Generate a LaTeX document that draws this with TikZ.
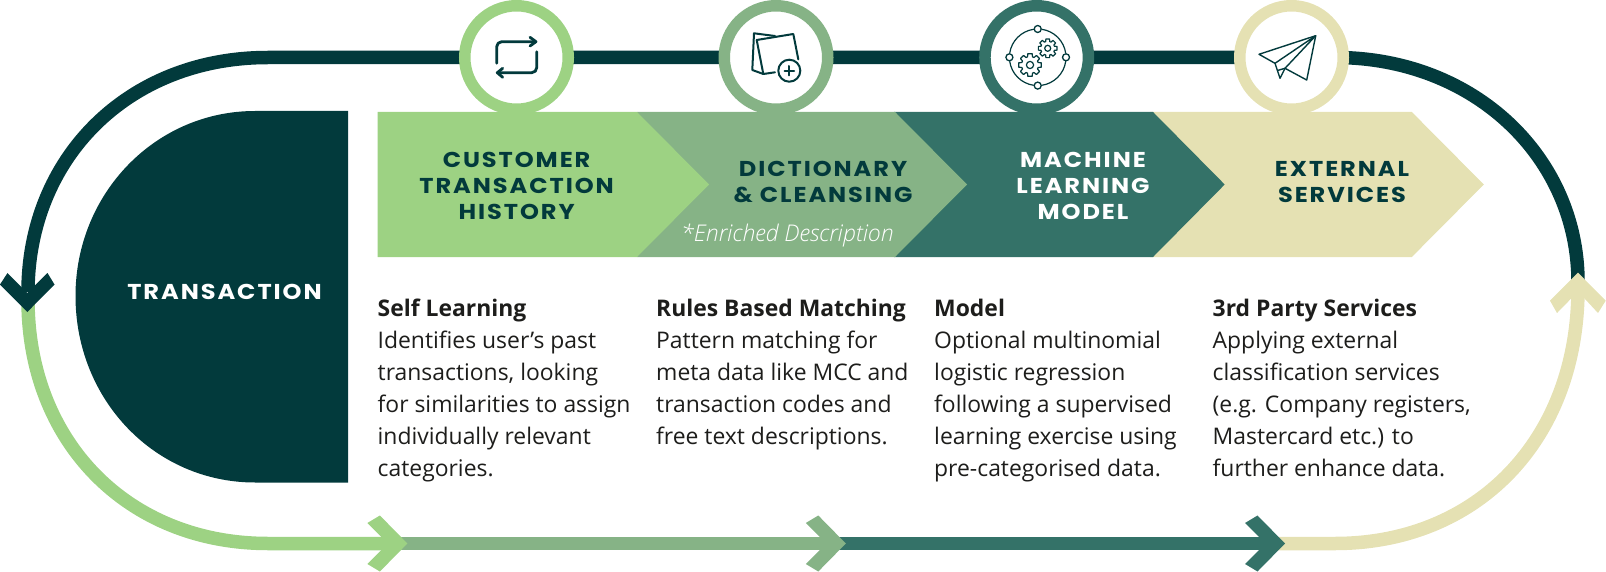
\documentclass[tikz,border=0pt]{standalone}
\usepackage{fontspec}
\setmainfont{Open Sans}
\newfontfamily\headf{Poppins}[UprightFont=* Bold,LetterSpace=9,FakeStretch=1.12]
\newfontfamily\enrf{Open Sans}[UprightFont=* Light Italic]
\usetikzlibrary{calc}
\definecolor{dk}{HTML}{023A3C}
\definecolor{lg}{HTML}{9DD283}
\definecolor{mg}{HTML}{86B386}
\definecolor{tl}{HTML}{347268}
\definecolor{bg}{HTML}{E5E1B3}
\definecolor{ink}{HTML}{1D1D1B}
\tikzset{
 ringline/.style={line width=13.5pt},
 ring/.style={circle,draw=#1,fill=white,line width=11.5pt,minimum size=103.5pt,inner sep=0pt,outer sep=0pt},
 iconline/.style={draw=dk,line width=2pt,line join=round,line cap=round},
 head/.style={font=\headf\fontsize{21.5}{26.3}\selectfont,align=center,inner sep=0pt,text=#1,anchor=base},
 bodytext/.style={font=\fontsize{22.9}{32}\selectfont,align=left,inner sep=0pt,text=ink,anchor=base west},
}
\newcommand{\gearicon}[5]{% x y outer inner hole
 \begin{scope}[shift={(#1,#2)}]
 \draw[draw=dk,line width=1.2pt,line join=round] (-11:#3)
   \foreach \a in {0,45,...,315}{ -- (\a-11:#3) -- (\a+11:#3) -- (\a+17:#4) -- (\a+28:#4)} -- cycle;
 \draw[draw=dk,line width=1.2pt] (0,0) circle (#5);
 \end{scope}}
\begin{document}
\begin{tikzpicture}[x=1pt,y=-1pt]
\useasboundingbox (0,0) rectangle (1606,572);
% ring anchor points
\coordinate (lt) at (268,57.5);
\coordinate (rt) at (1335,57.5);
\coordinate (lm) at (28,300);
\coordinate (rm) at (1578,300);
\coordinate (lb) at (268,543.5);
\coordinate (rb) at (1335,543.5);
\coordinate (tipA) at (407.4,543.5);
\coordinate (tipB) at (845.8,543.5);
\coordinate (tipC) at (1285,543.5);
% top dark line
\draw[ringline,dk] (28,292) .. controls (28,159) and (127,57.5) .. (lt) -- (rt)
   .. controls (1476,57.5) and (1578,159) .. (1578,282);
% lower lines
\draw[ringline,bg] ($(tipC)+(-15,0)$) -- (rb) .. controls (1476,543.5) and (1578,441) .. (1578,288);
\draw[ringline,tl] ($(tipB)+(-15,0)$) -- ($(tipC)+(-15,0)$);
\draw[ringline,mg] ($(tipA)+(-15,0)$) -- ($(tipB)+(-15,0)$);
\draw[ringline,lg] (lm) .. controls (28,441) and (127,543.5) .. (lb) -- ($(tipA)+(-15,0)$);
% arrowheads
\fill[dk] (27.3,312) -- (0,284.5) -- (7.5,273) -- (27.3,293) -- (47.5,273) -- (54.5,284.5) -- cycle;
\fill[bg] (1578,272.7) -- (1605.7,300.7) -- (1598,313) -- (1578,291.5) -- (1557,313) -- (1550,300.7) -- cycle;
\foreach \t/\c in {tipC/tl,tipB/mg,tipA/lg}{
 \fill[\c] (\t) -- ++(-27.5,-28) -- ++(-12.5,7.5) -- ++(20.5,20.5) -- ++(-20.5,20.5) -- ++(12.5,7.5) -- cycle;
}
% circles
\node[ring=lg] (c1) at (516.5,57.5) {};
\node[ring=mg] (c2) at (776,57.5) {};
\node[ring=tl] (c3) at (1036.7,57.5) {};
\node[ring=bg] (c4) at (1291.5,57.5) {};
% icon 1
\draw[iconline,line width=2.8pt,rounded corners=5pt] (496.7,63.3) -- (496.7,41.7) -- (535,41.7);
\draw[iconline,line width=2.8pt] (530,37.3) -- (536,41.7) -- (530,46);
\draw[iconline,line width=2.8pt,rounded corners=5pt] (536.7,51.7) -- (536.7,72.7) -- (497.3,72.7);
\draw[iconline,line width=2.8pt] (502.7,68.3) -- (497.3,72.7) -- (502.7,77.3);
% icon 2
\draw[iconline] (775,36) -- (754,33.3) -- (752.3,70) -- (763.3,74);
\draw[iconline] (775,72.3) -- (763.3,74) -- (756.7,40) -- (793.3,34) -- (798.3,59.3);
\draw[iconline] (789.3,70.7) circle (11);
\draw[iconline] (784.7,70.7) -- (794,70.7) (789.3,66) -- (789.3,75.4);
% icon 3
\begin{scope}[shift={(1037.7,57.3)}]
 \foreach \s in {8,98,188,278}{\draw[draw=dk,line width=1.2pt] (\s:28.3) arc[start angle=\s,end angle=\s+74,radius=28.3];}
 \foreach \a in {0,90,180,270}{\draw[draw=dk,line width=1.3pt,fill=white] (\a:28.3) circle (3.5);}
\end{scope}
\gearicon{1030}{65}{11.5}{8.5}{3.6}
\gearicon{1047.7}{48.3}{9.5}{7}{3}
% icon 4
\draw[iconline,line width=1.4pt] (1259,54.3) -- (1315.7,35.7) -- (1306.7,80) -- (1285,68.3) -- (1280,78.3) -- (1275,63.3) -- cycle;
\draw[iconline,line width=1.4pt] (1275,63.3) -- (1315.7,35.7) -- (1285,68.3);
\draw[iconline,line width=1.4pt] (1277.5,70.5) -- (1285,68.3);
% transaction
\path[fill=dk] (348,111) -- (255,111) .. controls (155,111) and (75.5,194) .. (75.5,296) .. controls (75.5,400) and (155,482.5) .. (255,482.5) -- (348,482.5) -- cycle;
\node[head=white] (tx) at (224.5,299.3) {TRANSACTION};
% chevrons
\fill[bg] (1150,112) -- (1411.8,112) -- (1483.8,184.5) -- (1411.8,257) -- (1150,257) -- cycle;
\fill[tl] (894,112) -- (1153,112) -- (1224.7,184.5) -- (1153,257) -- (894,257) -- cycle;
\fill[mg] (637,112) -- (895,112) -- (967,184.5) -- (895,257) -- (637,257) -- cycle;
\fill[lg] (377.5,112) -- (637,112) -- (709,184.5) -- (637,257) -- (377.5,257) -- cycle;
\node[head=dk] (h1) at (516.6,220) {CUSTOMER\\TRANSACTION\\HISTORY};
\node[head=dk] (h2) at (823,202.7) {DICTIONARY\\\& CLEANSING};
\node[head=white] (h3) at (1083,220) {MACHINE\\LEARNING\\MODEL};
\node[head=dk] (h4) at (1342,202.7) {EXTERNAL\\SERVICES};
\node[font=\enrf\fontsize{23}{24}\selectfont,text=white,inner sep=0pt,anchor=base west] (en) at (681,241.7) {*Enriched Description};
% body
\node[bodytext] (t1) at (377.5,476.7) {\textbf{Self Learning}\\Identifies user’s past\\transactions, looking\\for similarities to assign\\individually relevant\\categories.};
\node[bodytext] (t2) at (656,444.7) {\textbf{Rules Based Matching}\\Pattern matching for\\meta data like MCC and\\transaction codes and\\free text descriptions.};
\node[bodytext] (t3) at (934,476.7) {\textbf{Model}\\Optional multinomial\\logistic regression\\following a supervised\\learning exercise using\\pre-categorised data.};
\node[bodytext] (t4) at (1212.5,476.7) {\textbf{3rd Party Services}\\Applying external\\classification services\\(e.g. Company registers,\\Mastercard etc.) to\\further enhance data.};
\end{tikzpicture}
\end{document}
